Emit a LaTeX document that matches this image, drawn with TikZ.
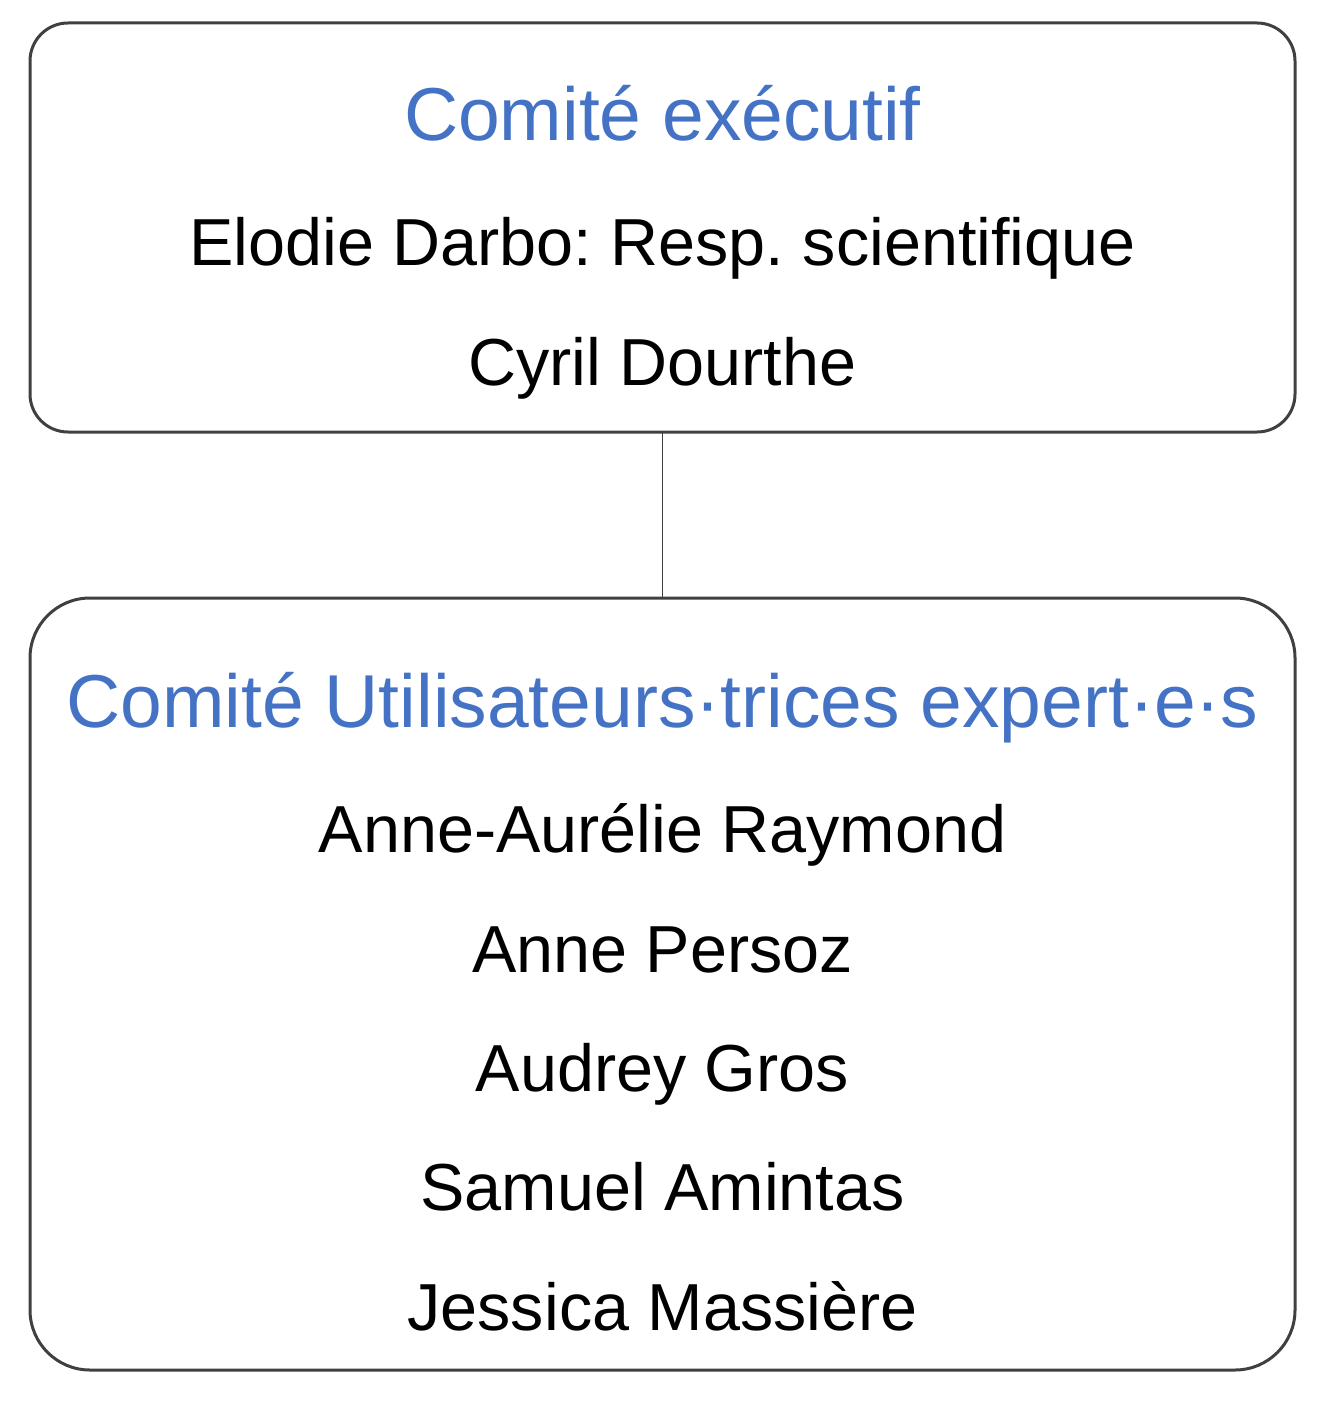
\documentclass[tikz,border=0pt]{standalone}
\usepackage{fontspec}
\setmainfont{Liberation Sans}
\frenchspacing
\definecolor{titleblue}{HTML}{4472C4}
\definecolor{boxgray}{HTML}{404040}
\begin{document}
\begin{tikzpicture}[x=1pt,y=-1pt,
  orgbox/.style={draw=boxgray,line width=3pt},
  ttlstyle/.style={text=titleblue,anchor=base,inner sep=0pt,font=\fontsize{75}{90}\selectfont},
  personstyle/.style={text=black,anchor=base,inner sep=0pt,font=\fontsize{66.5}{80}\selectfont\frenchspacing},
  linkstyle/.style={draw=boxgray,line width=1.5pt}]
\useasboundingbox (0,0) rectangle (1320,1402);
\draw[orgbox,rounded corners=38pt] (30,23) rectangle (1295,432);
\draw[orgbox,rounded corners=60pt] (30,598) rectangle (1295,1370);
\coordinate (top) at (662.5,432);
\coordinate (bot) at (662.5,598);
\node[ttlstyle] (t1) at (662.5,140) {Comité exécutif};
\node[personstyle] (n1) at (662.5,265) {Elodie Darbo: Resp. scientifique};
\node[personstyle] (n2) at (662.5,385) {Cyril Dourthe};
\node[ttlstyle] (t2) at (662.5,727) {Comité Utilisateurs·trices expert·e·s};
\node[personstyle] (m1) at (662.5,852) {Anne-Aurélie Raymond};
\node[personstyle] (m2) at (662.5,972) {Anne Persoz};
\node[personstyle] (m3) at (662.5,1091) {Audrey Gros};
\node[personstyle] (m4) at (662.5,1210) {Samuel Amintas};
\node[personstyle] (m5) at (662.5,1330) {Jessica Massière};
\draw[linkstyle] (top) -- (bot);
\end{tikzpicture}
\end{document}
